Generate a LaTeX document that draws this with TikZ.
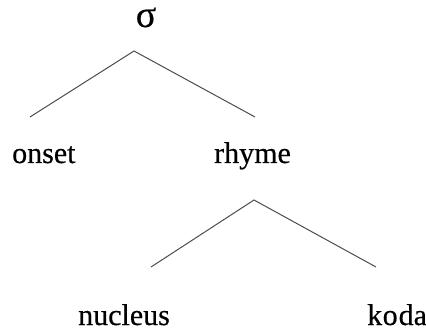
\documentclass[tikz,border=0pt]{standalone}
\usepackage{fontspec}
\setmainfont[FakeBold=0.4]{Liberation Serif}
\begin{document}
\begin{tikzpicture}[x=1pt,y=-1pt,
  lbl/.style={inner sep=0pt,font=\fontsize{30}{36}\selectfont},
  branch/.style={draw=black!70,line width=1pt}]
\useasboundingbox (0,0) rectangle (426,331);
\node[lbl,anchor=base,font=\fontsize{38}{44}\selectfont] (sigma) at (146,27) {\smash{σ}};
\node[lbl,anchor=base west] (onset) at (12,163) {onset};
\node[lbl,anchor=base west] (rhyme) at (214,163) {rhyme};
\node[lbl,anchor=base west] (nucleus) at (78,325) {nucleus};
\node[lbl,anchor=base west] (koda) at (367,325) {k\kern0.5pt o\kern1pt da};
\coordinate (stop) at (134,51);
\coordinate (sleft) at (30,117);
\coordinate (sright) at (255,117);
\coordinate (rtop) at (254,200);
\coordinate (rleft) at (151,267);
\coordinate (rright) at (376,267);
\draw[branch] (sleft) -- (stop) -- (sright);
\draw[branch] (rleft) -- (rtop) -- (rright);
\end{tikzpicture}
\end{document}
